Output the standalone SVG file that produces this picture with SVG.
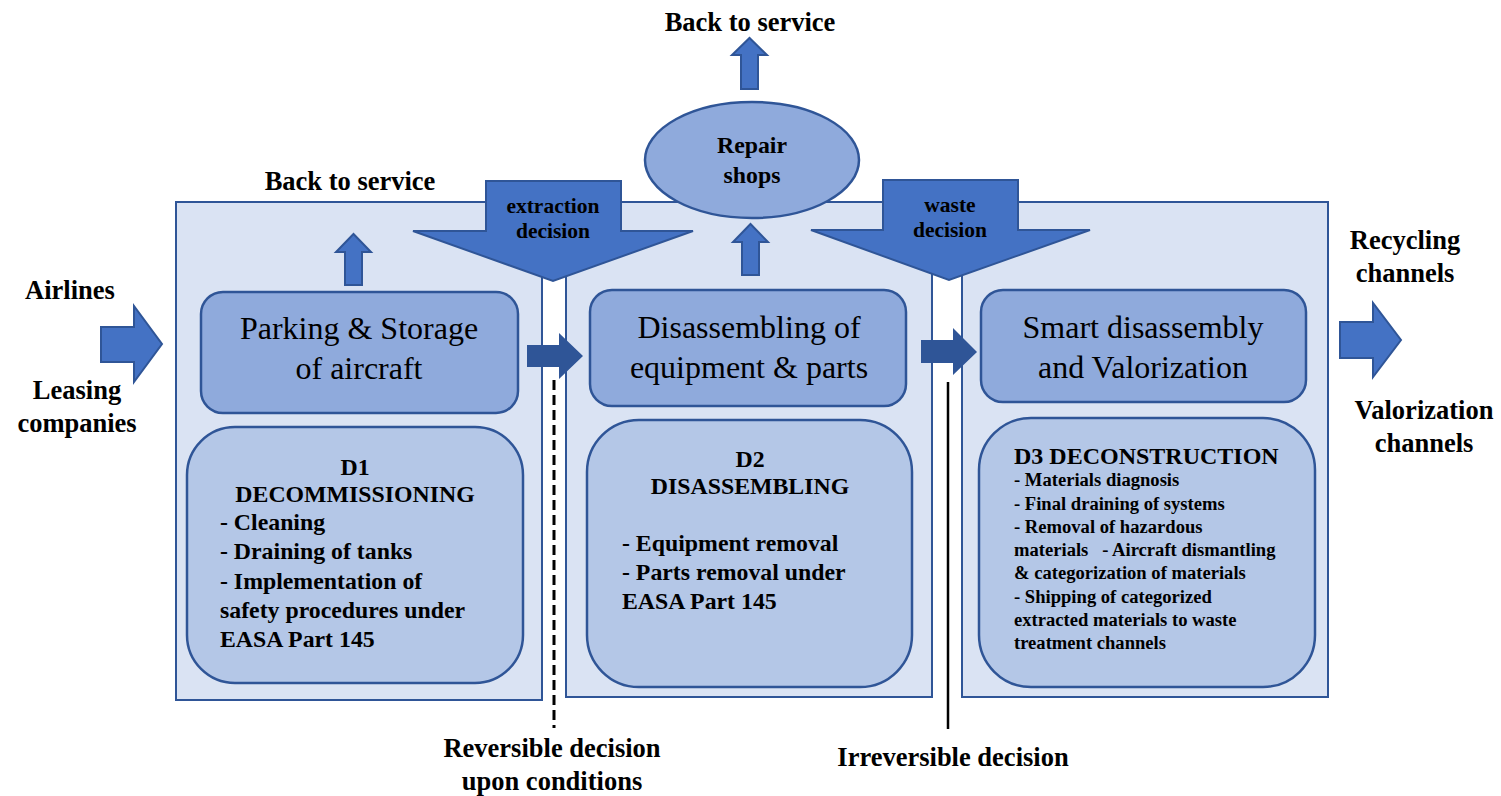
<svg xmlns="http://www.w3.org/2000/svg" width="1501" height="796" viewBox="0 0 1501 796">
<style>
.panel{fill:#DAE3F3;stroke:#2F5597;stroke-width:2}
.top{fill:#8FAADC;stroke:#2F5597;stroke-width:2.5}
.low{fill:#B4C7E7;stroke:#2F5597;stroke-width:2.5}
.arr{fill:#4472C4;stroke:#2F5597;stroke-width:2}
.dark{fill:#2F5597;stroke:none}
text{font-family:"Liberation Serif","Times New Roman",serif;fill:#000}
.b{font-weight:bold}
.lbl{font-size:26.5px;font-weight:bold}
.big{font-size:32px}
.mid{font-size:23.8px;font-weight:bold}
.sm{font-size:18.6px;font-weight:bold}
.dec{font-size:21.5px;font-weight:bold}
.c{text-anchor:middle}
</style>
<rect width="1501" height="796" fill="#fff"/>
<g id="panel1"><rect class="panel" x="176" y="202" width="366" height="498"/></g>
<g id="panel2"><rect class="panel" x="566" y="202" width="366" height="495"/></g>
<g id="panel3"><rect class="panel" x="962" y="202" width="366" height="495"/></g>

<g id="connectors">
<polygon class="arr" points="486,181 621,181 621,231 693,231 553,281 413,231 486,231"/>
<polygon class="arr" points="883,180 1018,180 1018,230 1090,230 949,280 811,230 883,230"/>
<polygon class="arr" points="345,285 362,285 362,252 371,252 353.5,234 336,252 345,252"/>
<polygon class="arr" points="742,275 759,275 759,242 768,242 750.5,224 733,242 742,242"/>
<polygon class="arr" points="741,89 758,89 758,55 767,55 749.5,38 732,55 741,55"/>
<polygon class="dark" points="527,345 559,345 559,333 583,356 559,379 559,367 527,367"/>
<polygon class="dark" points="921,340 953,340 953,328 977,352 953,375 953,363 921,363"/>
<polygon class="arr" points="101,327 134,327 134,306 162,344 134,382 134,362 101,362"/>
<polygon class="arr" points="1340,322 1373,322 1373,303 1401,340 1373,377 1373,358 1340,358"/>
<line x1="554" y1="380" x2="554" y2="728" stroke="#000" stroke-width="3" stroke-dasharray="10,5"/>
<line x1="948" y1="382" x2="948" y2="729" stroke="#000" stroke-width="2.5"/>
</g>

<g id="repair">
<ellipse class="top" cx="752" cy="160" rx="107" ry="58"/>
<text class="c b" x="752" y="153" font-size="23.8">Repair</text>
<text class="c b" x="752" y="183" font-size="23.8">shops</text>
</g>
<g id="extraction-label">
<text class="c dec" x="553" y="213">extraction</text>
<text class="c dec" x="553" y="238">decision</text>
</g>
<g id="waste-label">
<text class="c dec" x="950" y="212">waste</text>
<text class="c dec" x="950" y="237">decision</text>
</g>

<g id="parking">
<rect class="top" x="201" y="292" width="317" height="121" rx="22"/>
<text class="c big" x="359" y="339">Parking &amp; Storage</text>
<text class="c big" x="359" y="379">of aircraft</text>
</g>
<g id="disassembling">
<rect class="top" x="590" y="290" width="316" height="116" rx="22"/>
<text class="c big" x="749" y="338">Disassembling of</text>
<text class="c big" x="749" y="378">equipment &amp; parts</text>
</g>
<g id="smart">
<rect class="top" x="981" y="290" width="325" height="112" rx="22"/>
<text class="c big" x="1143" y="338">Smart disassembly</text>
<text class="c big" x="1143" y="378">and Valorization</text>
</g>

<g id="d1">
<rect class="low" x="187" y="427" width="336" height="256" rx="48"/>
<text class="c mid" x="355" y="475">D1</text>
<text class="c mid" x="355" y="502">DECOMMISSIONING</text>
<text class="mid" x="220" y="530">- Cleaning</text>
<text class="mid" x="220" y="559">- Draining of tanks</text>
<text class="mid" x="220" y="589">- Implementation of</text>
<text class="mid" x="220" y="618">safety procedures under</text>
<text class="mid" x="220" y="647">EASA Part 145</text>
</g>
<g id="d2">
<rect class="low" x="587" y="420" width="325" height="267" rx="52"/>
<text class="c mid" x="750" y="467">D2</text>
<text class="c mid" x="750" y="494">DISASSEMBLING</text>
<text class="mid" x="622" y="551">- Equipment removal</text>
<text class="mid" x="622" y="580">- Parts removal under</text>
<text class="mid" x="622" y="609">EASA Part 145</text>
</g>
<g id="d3">
<rect class="low" x="979" y="418" width="336" height="269" rx="52"/>
<text class="b" x="1014" y="464" font-size="24">D3 DECONSTRUCTION</text>
<text class="sm" x="1014" y="486">- Materials diagnosis</text>
<text class="sm" x="1014" y="510">- Final draining of systems</text>
<text class="sm" x="1014" y="533">- Removal of hazardous</text>
<text class="sm" x="1014" y="556" xml:space="preserve">materials   - Aircraft dismantling</text>
<text class="sm" x="1014" y="579">&amp; categorization of materials</text>
<text class="sm" x="1014" y="603">- Shipping of categorized</text>
<text class="sm" x="1014" y="626">extracted materials to waste</text>
<text class="sm" x="1014" y="649">treatment channels</text>
</g>

<g id="labels">
<text class="c lbl" x="750" y="31">Back to service</text>
<text class="c lbl" x="350" y="190">Back to service</text>
<text class="c lbl" x="70" y="299">Airlines</text>
<text class="c lbl" x="77" y="399">Leasing</text>
<text class="c lbl" x="77" y="432">companies</text>
<text class="c lbl" x="1405" y="249">Recycling</text>
<text class="c lbl" x="1405" y="282">channels</text>
<text class="c lbl" x="1424" y="419">Valorization</text>
<text class="c lbl" x="1424" y="452">channels</text>
<text class="c lbl" x="552" y="757">Reversible decision</text>
<text class="c lbl" x="552" y="790">upon conditions</text>
<text class="c lbl" x="953" y="766">Irreversible decision</text>
</g>
</svg>
